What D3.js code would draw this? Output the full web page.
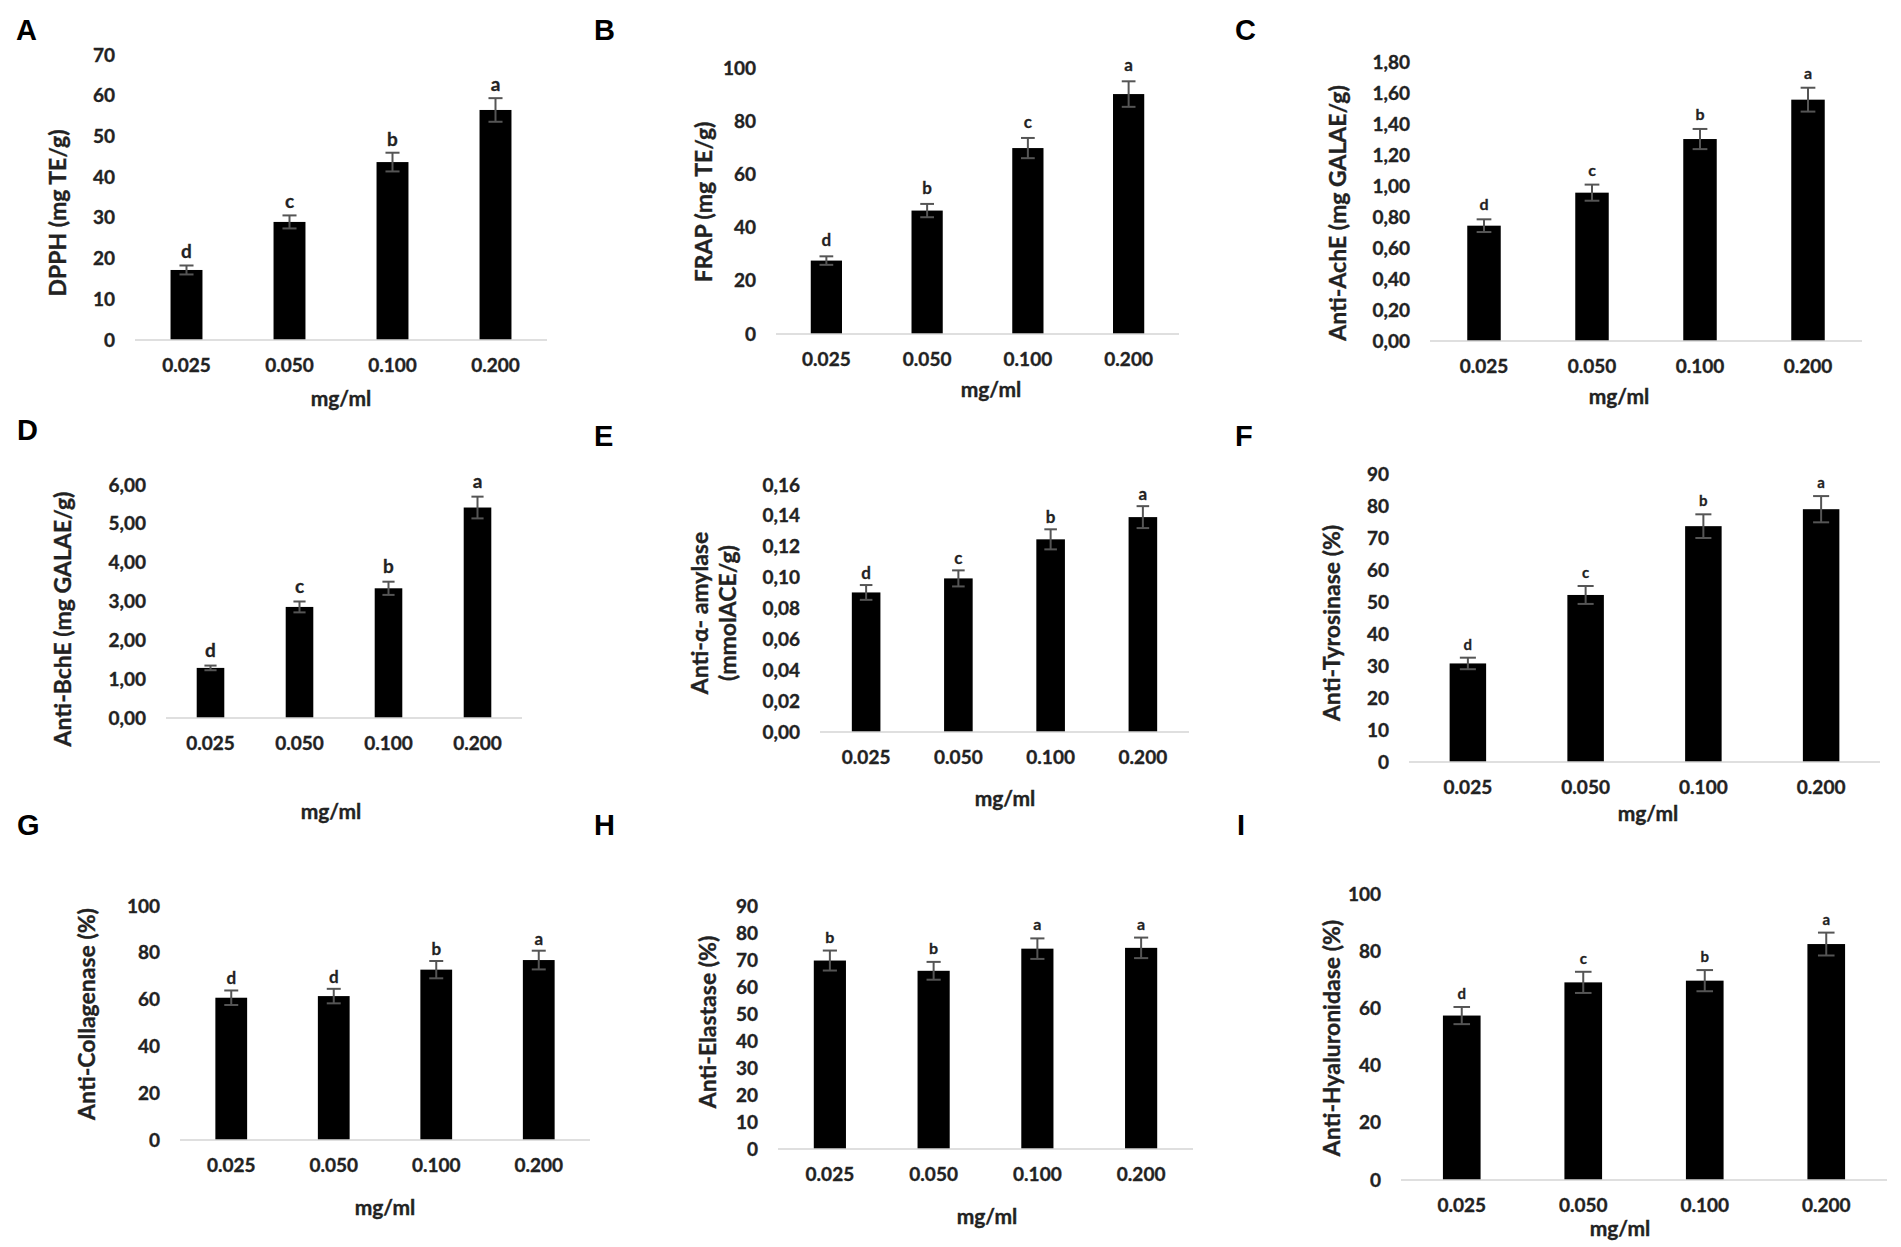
<!DOCTYPE html>
<html>
<head>
<meta charset="utf-8">
<script src="https://cdn.jsdelivr.net/npm/d3@7/dist/d3.min.js"></script>
<style>
  html, body { margin: 0; padding: 0; background: #fff; }
  svg { display: block; }
  text { font-family: Lato, "Open Sans", sans-serif; font-weight: 700; fill: #222; }
  .thick { stroke: #222; stroke-width: 0.35px; paint-order: stroke; }
  .sig { stroke: #333; stroke-width: 0.3px; paint-order: stroke; }
  .plabel { font-family: "Liberation Sans", Arial, sans-serif; fill: #000; }
</style>
</head>
<body>
<svg id="chart" width="1901" height="1247"></svg>
<script>
// ---------------- DATA ----------------
const concentrations = ["0.025", "0.050", "0.100", "0.200"];
const xAxisTitle = "mg/ml";

const dpph        = [17.2, 29.0, 43.7, 56.5];
const dpphErr     = [1.1, 1.6, 2.3, 2.9];
const dpphLetters = ["d", "c", "b", "a"];
const ticksA      = [0, 10, 20, 30, 40, 50, 60, 70];

const frap        = [27.6, 46.4, 69.9, 90.2];
const frapErr     = [1.6, 2.5, 3.8, 4.8];
const frapLetters = ["d", "b", "c", "a"];
const ticksB      = [0, 20, 40, 60, 80, 100];

const ache        = [0.744, 0.957, 1.303, 1.557];
const acheErr     = [0.041, 0.052, 0.065, 0.077];
const acheLetters = ["d", "c", "b", "a"];
const ticksC      = [0, 0.2, 0.4, 0.6, 0.8, 1.0, 1.2, 1.4, 1.6, 1.8];

const bche        = [1.29, 2.86, 3.34, 5.42];
const bcheErr     = [0.06, 0.14, 0.17, 0.28];
const bcheLetters = ["d", "c", "b", "a"];
const ticksD      = [0, 1, 2, 3, 4, 5, 6];

const amylase        = [0.0904, 0.0995, 0.1248, 0.1392];
const amylaseErr     = [0.0048, 0.0052, 0.0065, 0.0071];
const amylaseLetters = ["d", "c", "b", "a"];
const ticksE         = [0, 0.02, 0.04, 0.06, 0.08, 0.10, 0.12, 0.14, 0.16];

const tyrosinase        = [30.8, 52.2, 73.7, 79.0];
const tyrosinaseErr     = [1.8, 2.8, 3.7, 4.1];
const tyrosinaseLetters = ["d", "c", "b", "a"];
const ticksF            = [0, 10, 20, 30, 40, 50, 60, 70, 80, 90];

const collagenase        = [60.8, 61.5, 72.8, 76.9];
const collagenaseErr     = [3.1, 3.1, 3.7, 4.0];
const collagenaseLetters = ["d", "d", "b", "a"];
const ticksG             = [0, 20, 40, 60, 80, 100];

const elastase        = [69.8, 66.0, 74.2, 74.5];
const elastaseErr     = [3.7, 3.3, 3.8, 3.8];
const elastaseLetters = ["b", "b", "a", "a"];
const ticksH          = [0, 10, 20, 30, 40, 50, 60, 70, 80, 90];

const hyaluronidase        = [57.5, 69.1, 69.7, 82.5];
const hyaluronidaseErr     = [3.0, 3.7, 3.7, 4.0];
const hyaluronidaseLetters = ["d", "c", "b", "a"];
const ticksI               = [0, 20, 40, 60, 80, 100];

// ---------------- FORMATS ----------------
const comma = d3.formatLocale({decimal: ",", thousands: ".", grouping: [3], currency: ["", ""]});
const fmtInt = d3.format("d");
const fmt2 = comma.format(".2f");

// ---------------- PANELS (layout separate from data) ----------------
const panels = [
  {name: "A", values: dpph, errors: dpphErr, letters: dpphLetters, ticks: ticksA, fmt: fmtInt,
   title: ["DPPH (mg TE/g)"],
   L: {x0: 135, x1: 547, yTop: 55, yBot: 340, lab: [16, 40], tx: [57], ty: 213, mx: 341, my: 397, ls: 19, gap: 7}},
  {name: "B", values: frap, errors: frapErr, letters: frapLetters, ticks: ticksB, fmt: fmtInt,
   title: ["FRAP (mg TE/g)"],
   L: {x0: 776, x1: 1179, yTop: 68, yBot: 334, lab: [594, 40], tx: [703], ty: 202, mx: 991, my: 388, ls: 17, gap: 10}},
  {name: "C", values: ache, errors: acheErr, letters: acheLetters, ticks: ticksC, fmt: fmt2,
   title: ["Anti-AchE (mg GALAE/g)"],
   L: {x0: 1430, x1: 1862, yTop: 62, yBot: 341, lab: [1235, 40], tx: [1337], ty: 213, mx: 1619, my: 395, ls: 16, gap: 9}},
  {name: "D", values: bche, errors: bcheErr, letters: bcheLetters, ticks: ticksD, fmt: fmt2,
   title: ["Anti-BchE (mg GALAE/g)"],
   L: {x0: 166, x1: 522, yTop: 485, yBot: 718, lab: [17, 440], tx: [62], ty: 619, mx: 331, my: 810, ls: 19, gap: 9}},
  {name: "E", values: amylase, errors: amylaseErr, letters: amylaseLetters, ticks: ticksE, fmt: fmt2,
   title: ["Anti-\u03b1- amylase", "(mmolACE/g)"],
   L: {x0: 820, x1: 1189, yTop: 485, yBot: 732, lab: [594, 446], tx: [699, 727], ty: 613, mx: 1005, my: 797, ls: 17, gap: 6}},
  {name: "F", values: tyrosinase, errors: tyrosinaseErr, letters: tyrosinaseLetters, ticks: ticksF, fmt: fmtInt,
   title: ["Anti-Tyrosinase (%)"],
   L: {x0: 1409, x1: 1880, yTop: 474, yBot: 762, lab: [1235, 446], tx: [1331], ty: 623, mx: 1648, my: 812, ls: 15, gap: 8}},
  {name: "G", values: collagenase, errors: collagenaseErr, letters: collagenaseLetters, ticks: ticksG, fmt: fmtInt,
   title: ["Anti-Collagenase (%)"],
   L: {x0: 180, x1: 590, yTop: 906, yBot: 1140, lab: [17, 835], tx: [86], ty: 1014, mx: 385, my: 1206, ls: 17, gap: 6}},
  {name: "H", values: elastase, errors: elastaseErr, letters: elastaseLetters, ticks: ticksH, fmt: fmtInt,
   title: ["Anti-Elastase (%)"],
   L: {x0: 778, x1: 1193, yTop: 906, yBot: 1149, lab: [594, 835], tx: [707], ty: 1022, mx: 987, my: 1215, ls: 16, gap: 8}},
  {name: "I", values: hyaluronidase, errors: hyaluronidaseErr, letters: hyaluronidaseLetters, ticks: ticksI, fmt: fmtInt,
   title: ["Anti-Hyaluronidase (%)"],
   L: {x0: 1401, x1: 1887, yTop: 894, yBot: 1180, lab: [1237, 835], tx: [1331], ty: 1038, mx: 1620, my: 1227, ls: 15, gap: 8}}
];

const svg = d3.select("#chart");

panels.forEach(p => {
  const L = p.L;
  const g = svg.append("g").attr("class", "panel panel-" + p.name);

  const x = d3.scaleBand().domain(concentrations).range([L.x0, L.x1])
    .paddingInner(0.69).paddingOuter(0.345);
  const yMax = p.ticks[p.ticks.length - 1];
  const y = d3.scaleLinear().domain([0, yMax]).range([L.yBot, L.yTop]);

  // panel letter
  g.append("text").attr("class", "plabel")
    .attr("x", L.lab[0]).attr("y", L.lab[1])
    .attr("font-size", 29).text(p.name);

  // y axis (labels only)
  const yAxis = d3.axisLeft(y).tickValues(p.ticks).tickFormat(p.fmt).tickSize(0).tickPadding(20);
  const ya = g.append("g").attr("transform", `translate(${L.x0},0)`).call(yAxis);
  ya.select(".domain").remove();
  ya.selectAll("text").attr("class", "thick").attr("font-size", 19).attr("fill", "#222")
    .attr("font-family", "Lato, 'Open Sans', sans-serif").attr("font-weight", 700);

  // bars
  g.selectAll("rect.bar").data(p.values).join("rect").attr("class", "bar")
    .attr("x", (d, i) => x(concentrations[i]))
    .attr("width", x.bandwidth())
    .attr("y", d => y(d))
    .attr("height", d => y(0) - y(d))
    .attr("fill", "#000");

  // x axis baseline + labels
  const xAxis = d3.axisBottom(x).tickSize(0).tickPadding(19);
  const xa = g.append("g").attr("transform", `translate(0,${L.yBot})`).call(xAxis);
  xa.select(".domain").attr("stroke", "#d4d4d4").attr("stroke-width", 1.6)
    .attr("d", `M${L.x0},0H${L.x1}`);
  xa.selectAll("text").attr("class", "thick").attr("font-size", 19).attr("fill", "#222")
    .attr("font-family", "Lato, 'Open Sans', sans-serif").attr("font-weight", 700);

  // error bars
  const cap = x.bandwidth() * 0.22;
  const eg = g.append("g").attr("stroke", "#555").attr("stroke-width", 2).attr("fill", "none");
  p.values.forEach((v, i) => {
    const cx = x(concentrations[i]) + x.bandwidth() / 2;
    const hi = y(v + p.errors[i]), lo = y(v - p.errors[i]);
    eg.append("line").attr("x1", cx).attr("x2", cx).attr("y1", hi).attr("y2", lo);
    eg.append("line").attr("x1", cx - cap).attr("x2", cx + cap).attr("y1", hi).attr("y2", hi);
    eg.append("line").attr("x1", cx - cap).attr("x2", cx + cap).attr("y1", lo).attr("y2", lo);
  });

  // significance letters
  g.selectAll("text.sig").data(p.letters).join("text").attr("class", "sig")
    .attr("x", (d, i) => x(concentrations[i]) + x.bandwidth() / 2)
    .attr("y", (d, i) => y(p.values[i] + p.errors[i]) - L.gap)
    .attr("text-anchor", "middle")
    .attr("font-size", L.ls)
    .attr("fill", "#333")
    .text(d => d);

  // x title
  g.append("text").attr("class", "thick").attr("x", L.mx).attr("y", L.my)
    .attr("text-anchor", "middle").attr("dominant-baseline", "central")
    .attr("font-size", 21).text(xAxisTitle);

  // y title
  p.title.forEach((t, k) => {
    g.append("text").attr("class", "thick")
      .attr("transform", `translate(${L.tx[k]},${L.ty}) rotate(-90)`)
      .attr("text-anchor", "middle").attr("dominant-baseline", "central")
      .attr("font-size", 23).text(t);
  });
});
</script>
</body>
</html>
